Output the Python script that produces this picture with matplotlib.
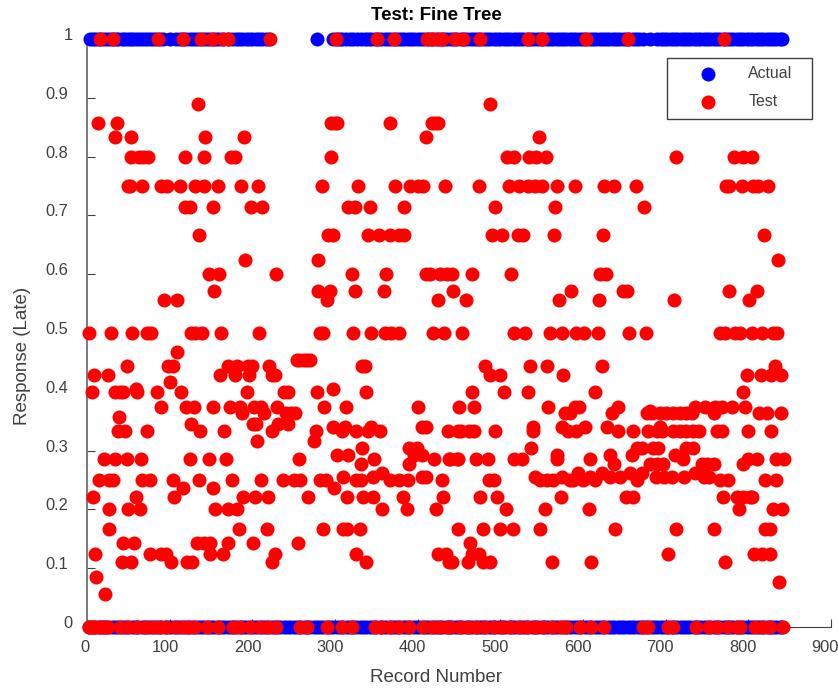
import matplotlib
matplotlib.use("Agg")
import matplotlib.pyplot as plt
from matplotlib.transforms import ScaledTranslation
from matplotlib.patches import Rectangle

plt.rcParams['font.family'] = ['Liberation Sans', 'DejaVu Sans']

actual_one = [4,7,10,13,17,20,24,28,31,35,38,42,45,48,52,55,58,62,65,69,72,76,80,84,88,92,100,108,112,116,120,124,128,132,136,140,144,148,152,156,160,165,170,175,180,184,188,192,196,200,204,208,212,216,220,278,
 297,302,306,309,313,318,322,327,331,336,340,344,348,352,356,360,364,368,372,376,380,384,388,392,396,400,404,408,412,416,420,424,428,432,436,440,444,448,452,456,460,464,468,472,476,480,484,488,492,496,500,504,508,512,516,520,524,528,532,536,540,544,548,552,556,560,564,568,572,576,580,584,588,592,596,600,604,608,612,616,620,624,628,632,636,640,644,648,652,656,660,664,668,672,681,690,694,698,702,706,710,714,718,722,726,730,734,738,742,746,750,754,758,762,766,770,774,778,782,786,790,794,798,802,806,810,814,818,822,826,830,834,838,841]
actual_zero = [3,6,10,14,18,22,26,30,34,38,42,46,50,54,58,62,66,70,74,78,82,86,90,94,98,102,106,110,114,118,122,126,130,134,138,142,146,150,154,158,162,166,170,174,178,182,186,190,194,198,202,206,210,214,218,222,226,230,234,238,242,246,250,254,258,262,266,270,274,278,282,286,290,294,298,302,306,310,314,318,322,326,330,334,338,342,346,350,354,358,362,366,370,374,378,382,386,390,394,398,402,406,410,414,418,422,426,430,434,438,442,446,450,454,458,462,466,470,474,478,482,486,490,494,498,502,506,510,514,518,522,526,530,534,538,542,546,550,554,558,562,566,570,574,578,582,586,590,594,598,602,606,610,614,618,622,626,630,634,638,642,646,650,654,658,662,666,670,674,678,682,686,690,694,698,702,706,710,714,718,722,726,730,734,738,742,746,750,754,758,762,766,770,774,778,782,786,790,794,798,802,806,810,814,818,822,826,830,834,838,841]

test_one = [16,32,86,116,138,151,165,170,221,301,351,371,411,417,423,429,445,455,476,533,551,604,655,770]
test_zero = [2,4,7,10,14,18,22,25,40,50,60,70,80,88,96,106,116,122,131,145,159,177,185,197,209,219,229,258,266,290,308,320,348,356,367,377,389,407,417,427,437,439,451,461,471,482,492,502,512,522,532,542,552,562,573,580,596,610,625,673,679,703,709,737,752,762,776,786,790,808,818,826,842]

t0889 = [134,487]
t0857 = [13,36,295,300,303,366,417,421,425]
t0833 = [34,53,143,190,410,547]
t0800 = [53,63,68,74,118,141,174,179,295,508,517,535,543,555,713,783,793,804]
t0750 = [49,52,66,90,97,112,131,142,158,186,207,284,328,373,391,401,407,433,474,510,522,534,542,550,568,590,626,638,664,773,777,792,806,812,824]
t0714 = [118,124,152,198,212,316,324,342,384,493,566,674]
t0667 = [135,292,298,340,353,366,378,383,490,502,521,528,565,624,819]
t0625 = [191,280,836]
t0600 = [147,160,229,321,362,410,415,427,435,441,466,513,621,628]
t0571 = [154,279,294,324,359,443,585,648,653,777,810]
t0556 = [93,109,290,425,458,571,619,710,801]
t0500 = [2,29,55,73,78,126,131,139,162,208,282,286,322,344,360,368,378,418,432,454,516,530,560,574,591,601,618,656,676,766,772,784,790,805,816,830,835]
t0467 = [109]
t0455 = [254,258,262,266,270]
t0444 = [48,98,104,171,181,195,199,220,333,336,482,536,557,623,832]
t0429 = [9,25,161,179,196,224,228,488,499,576,798,815,828,839]
t0417 = [100]
t0405 = [59,297]
t0400 = [6,34,40,44,61,85,114,194,238,243,278,338,466,505,533,615,794]
t0375 = [89,120,130,153,173,185,202,211,230,287,313,400,450,468,558,590,595,642,736,748,760,768,780,796]
t0367 = [681]
t0364 = [187,214,241,247,252,578,584,635,677,683,693,701,709,717,725,732,758,813,823,839]
t0357 = [39]
t0345 = [126,201,205,231,243]
t0340 = [298,312,343,405,410,539,574,602,629,693]
t0333 = [38,46,72,137,166,224,277,308,325,340,354,437,449,453,462,468,493,539,582,591,642,660,679,689,695,709,717,725,733,740,762,768,799,827]
t0316 = [206,274]
t0305 = [333,389,399,537,665,671,685,691,725,733]
t0293 = [302,316,395,405,568,633,659,711]
t0285 = [20,34,48,65,125,147,168,256,347,420,438,447,439,449,471,485,516,526,568,609,721,800,811,833,843]
t0277 = [331,390,637,681,689,697,744,750,758,794]
t0262 = [357,594,623,657,671,736]
t0256 = [310,346,405,410,542,575,608,633,645,688,698,708,722,746,752]
t0250 = [15,27,32,66,76,104,136,176,210,237,251,258,282,289,326,332,367,378,388,429,486,492,548,556,564,584,588,600,614,665,766,776,820,834]
t0237 = [116,152,299]
t0222 = [7,59,105,189,203,219,267,315,334,346,382,431,476,496,573,652,660,769,786,794,802,805]
t0200 = [27,50,64,155,171,182,357,387,422,507,554,607,789,830,841]
t0167 = [27,184,218,285,310,315,330,449,479,500,515,548,639,712,758,820,826]
t0143 = [43,57,133,141,149,170,201,255,463]
t0125 = [10,76,90,95,149,164,228,325,425,434,466,474,703,807,816,826]
t0111 = [42,53,102,121,127,224,337,438,442,461,479,487,562,610,772]
t0086 = [11]
t0077 = [837]
t0056 = [22]

levels = [(1.0,test_one),(0.0,test_zero),(0.889,t0889),(0.857,t0857),(0.833,t0833),(0.8,t0800),(0.75,t0750),(0.714,t0714),(0.667,t0667),(0.625,t0625),(0.6,t0600),(0.571,t0571),(0.556,t0556),(0.5,t0500),(0.467,t0467),(0.455,t0455),(0.444,t0444),(0.429,t0429),(0.417,t0417),(0.405,t0405),(0.4,t0400),(0.375,t0375),(0.367,t0367),(0.364,t0364),(0.357,t0357),(0.345,t0345),(0.34,t0340),(0.333,t0333),(0.316,t0316),(0.305,t0305),(0.293,t0293),(0.285,t0285),(0.277,t0277),(0.262,t0262),(0.256,t0256),(0.25,t0250),(0.237,t0237),(0.222,t0222),(0.2,t0200),(0.167,t0167),(0.143,t0143),(0.125,t0125),(0.111,t0111),(0.086,t0086),(0.077,t0077),(0.056,t0056)]

x_ticks = [0,100,200,300,400,500,600,700,800,900]
y_ticks = [0,0.1,0.2,0.3,0.4,0.5,0.6,0.7,0.8,0.9,1]
y_labels = ['0','0.1','0.2','0.3','0.4','0.5','0.6','0.7','0.8','0.9','1']

W,H = 838,689
fig = plt.figure(figsize=(W/100,H/100),dpi=100)
L,R,T,B = 87,831,39,627.1
ax = fig.add_axes([L/W,1-B/H,(R-L)/W,(B-T)/H])
ax.set_xlim(0,900); ax.set_ylim(0,1)
for s in ['top','right']:
    ax.spines[s].set_visible(False)
GR='#404040'
ax.spines['left'].set_color('#707070'); ax.spines['left'].set_linewidth(1.3)
ax.spines['bottom'].set_color(GR); ax.spines['bottom'].set_linewidth(0.8)

S=102
b = ax.scatter(actual_one+actual_zero,[1]*len(actual_one)+[0]*len(actual_zero),s=S,c='#0000ff',linewidths=0,clip_on=False,zorder=3,label='Actual')
xs=[];ys=[]
for v,l in levels:
    xs+=l; ys+=[v]*len(l)
r = ax.scatter(xs,ys,s=S,c='#ff0000',linewidths=0,clip_on=False,zorder=4,label='Test')

ax.set_xticks(x_ticks); ax.set_yticks(y_ticks); ax.set_yticklabels(y_labels)
ax.tick_params(axis='both',direction='in',length=5.8,width=0.8,color=GR,labelcolor=GR,labelsize=11.8)
ax.tick_params(axis='y',pad=13.5)
ax.tick_params(axis='x',pad=9)
for t,lab in zip(x_ticks,ax.get_xticklabels()):
    dx = -2 if t==0 else -4.5-t/900*1.5
    lab.set_transform(lab.get_transform()+ScaledTranslation(dx/100,0,fig.dpi_scale_trans))
for t,lab in zip(y_ticks,ax.get_yticklabels()):
    dx = 4 if t in (0,1) else 0
    lab.set_transform(lab.get_transform()+ScaledTranslation(dx/100,5/100,fig.dpi_scale_trans))

ax.set_title('Test: Fine Tree',fontsize=13.5,fontweight='bold',color='black',y=(B-15)/(B-T),va='center',x=(436-L)/(R-L),pad=0)
ax.set_xlabel('Record Number',fontsize=13.5,color=GR)
ax.xaxis.set_label_coords((436-L)/(R-L),(B-678)/(B-T))
ax.xaxis.label.set_va('center')
ax.set_ylabel('Response (Late)',fontsize=13.5,color=GR)
ax.yaxis.set_label_coords((23-L)/(R-L),(B-356)/(B-T))
ax.yaxis.label.set_va('center')

fig.add_artist(Rectangle((666.7/W,1-119/H),145.3/W,61.5/H,transform=fig.transFigure,fc='white',ec='#404040',lw=1.0,zorder=5))
leg = fig.legend(handles=[b,r],labels=['Actual','Test'],loc='upper left',bbox_to_anchor=(688/W,1-66.5/H),
    frameon=False,fontsize=11.4,labelcolor=GR,scatterpoints=1,borderpad=0,borderaxespad=0,
    handlelength=2.55,handletextpad=1.25,labelspacing=0.8)
leg.set_zorder(6)
fig.savefig('out.png',dpi=100)
